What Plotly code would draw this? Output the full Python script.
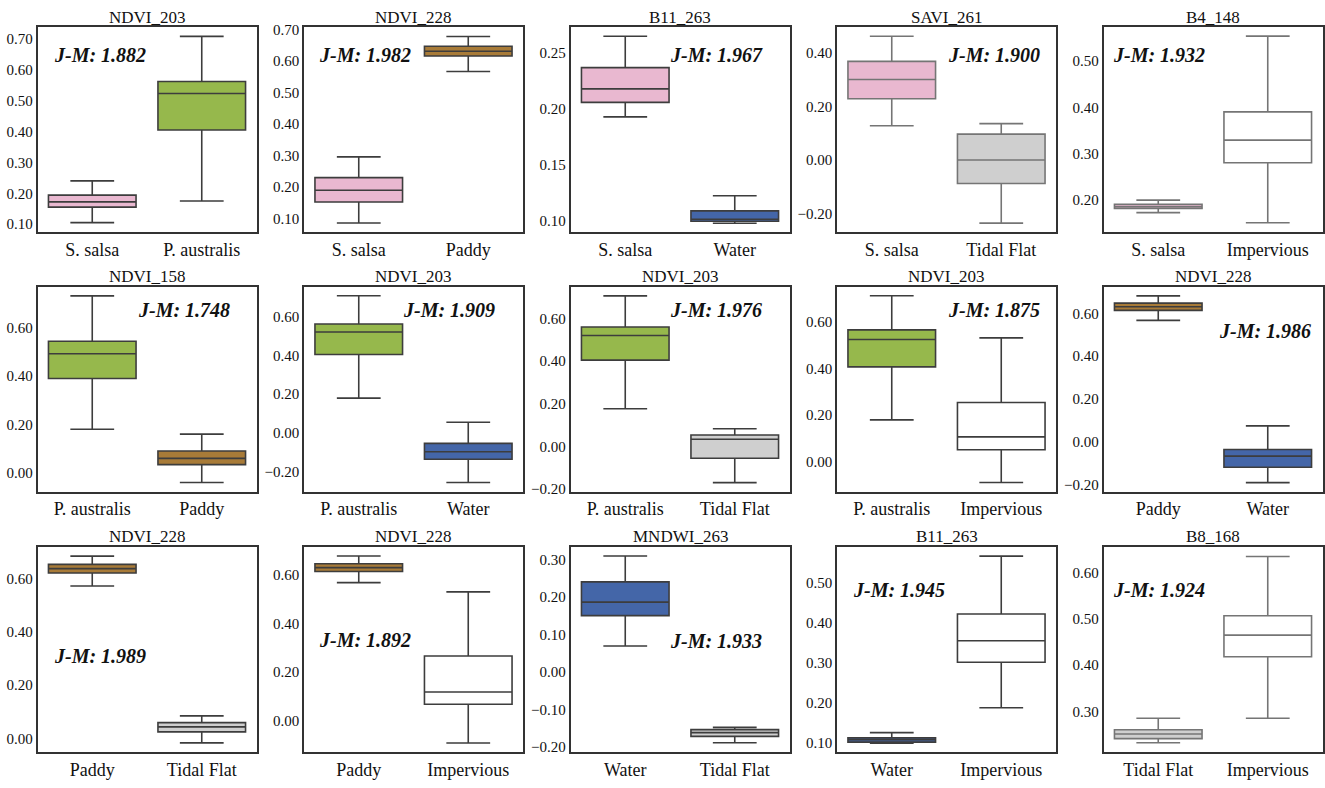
"""J-M separability box plots, 3 x 5 panels"""
import plotly.graph_objects as go

# ---- data ----
titles = ["NDVI_203", "NDVI_228", "B11_263", "SAVI_261", "B4_148",
          "NDVI_158", "NDVI_203", "NDVI_203", "NDVI_203", "NDVI_228",
          "NDVI_228", "NDVI_228", "MNDWI_263", "B11_263", "B8_168"]

pairs = [("S. salsa", "P. australis"), ("S. salsa", "Paddy"), ("S. salsa", "Water"),
         ("S. salsa", "Tidal Flat"), ("S. salsa", "Impervious"),
         ("P. australis", "Paddy"), ("P. australis", "Water"), ("P. australis", "Tidal Flat"),
         ("P. australis", "Impervious"), ("Paddy", "Water"),
         ("Paddy", "Tidal Flat"), ("Paddy", "Impervious"), ("Water", "Tidal Flat"),
         ("Water", "Impervious"), ("Tidal Flat", "Impervious")]

jm_values = [1.882, 1.982, 1.967, 1.900, 1.932,
             1.748, 1.909, 1.976, 1.875, 1.986,
             1.989, 1.892, 1.933, 1.945, 1.924]

# [lower whisker, q1, median, q3, upper whisker] for the first and second class
stats_a = [[0.105, 0.155, 0.172, 0.194, 0.240],
           [0.086, 0.153, 0.190, 0.230, 0.296],
           [0.193, 0.206, 0.218, 0.237, 0.265],
           [0.128, 0.229, 0.301, 0.369, 0.463],
           [0.172, 0.181, 0.185, 0.190, 0.199],
           [0.181, 0.390, 0.492, 0.544, 0.731],
           [0.180, 0.406, 0.523, 0.564, 0.711],
           [0.177, 0.405, 0.520, 0.560, 0.706],
           [0.179, 0.407, 0.525, 0.566, 0.713],
           [0.568, 0.615, 0.632, 0.649, 0.683],
           [0.572, 0.621, 0.637, 0.653, 0.684],
           [0.569, 0.615, 0.631, 0.647, 0.679],
           [0.069, 0.150, 0.186, 0.240, 0.309],
           [0.098, 0.1008, 0.107, 0.1115, 0.1246],
           [0.232, 0.241, 0.251, 0.260, 0.285]]

stats_b = [[0.175, 0.405, 0.523, 0.562, 0.708],
           [0.567, 0.616, 0.631, 0.647, 0.678],
           [0.098, 0.0997, 0.1015, 0.109, 0.1226],
           [-0.236, -0.088, 0.000, 0.097, 0.136],
           [0.150, 0.280, 0.329, 0.390, 0.554],
           [-0.039, 0.035, 0.061, 0.091, 0.161],
           [-0.258, -0.137, -0.098, -0.055, 0.055],
           [-0.169, -0.055, 0.034, 0.054, 0.083],
           [-0.090, 0.051, 0.106, 0.254, 0.532],
           [-0.192, -0.120, -0.068, -0.037, 0.074],
           [-0.016, 0.025, 0.044, 0.060, 0.085],
           [-0.094, 0.0665, 0.117, 0.266, 0.531],
           [-0.189, -0.172, -0.162, -0.154, -0.148],
           [0.187, 0.301, 0.355, 0.422, 0.567],
           [0.285, 0.418, 0.465, 0.507, 0.635]]

y_ticks = [[0.1, 0.2, 0.3, 0.4, 0.5, 0.6, 0.7],
           [0.1, 0.2, 0.3, 0.4, 0.5, 0.6, 0.7],
           [0.10, 0.15, 0.20, 0.25],
           [-0.2, 0.0, 0.2, 0.4],
           [0.2, 0.3, 0.4, 0.5],
           [0.0, 0.2, 0.4, 0.6],
           [-0.2, 0.0, 0.2, 0.4, 0.6],
           [-0.2, 0.0, 0.2, 0.4, 0.6],
           [0.0, 0.2, 0.4, 0.6],
           [-0.2, 0.0, 0.2, 0.4, 0.6],
           [0.0, 0.2, 0.4, 0.6],
           [0.0, 0.2, 0.4, 0.6],
           [-0.2, -0.1, 0.0, 0.1, 0.2, 0.3],
           [0.1, 0.2, 0.3, 0.4, 0.5],
           [0.3, 0.4, 0.5, 0.6]]

# ---- layout / style ----
y_ranges = [[0.073, 0.737], [0.056, 0.707], [0.0897, 0.273], [-0.271, 0.496], [0.129, 0.573],
            [-0.077, 0.769], [-0.306, 0.758], [-0.212, 0.749], [-0.130, 0.752], [-0.235, 0.726],
            [-0.052, 0.717], [-0.133, 0.715], [-0.215, 0.332], [0.075, 0.589], [0.211, 0.655]]

# J-M label position inside each panel (fraction of the panel)
jm_pos = [(0.065, 0.867), (0.058, 0.867), (0.443, 0.867), (0.499, 0.867), (0.032, 0.867),
          (0.449, 0.888), (0.442, 0.888), (0.443, 0.888), (0.499, 0.888), (0.518, 0.784),
          (0.065, 0.472), (0.058, 0.549), (0.443, 0.544), (0.066, 0.792), (0.032, 0.792)]

class_colors = {"S. salsa": "#e9b8d0", "P. australis": "#96b84c", "Paddy": "#a87b38",
                "Water": "#4466a8", "Tidal Flat": "#cfcfcf", "Impervious": "#ffffff"}

dark = "#3d3d3d"
light = "#757575"
line_colors = [dark, dark, dark, light, light,
               dark, dark, dark, dark, dark,
               dark, dark, dark, dark, light]

W, H = 1325, 788
col_px = [(37.5, 256.5), (304, 523), (570.5, 789.5), (837, 1056), (1103.5, 1322.5)]
row_px = [(21.7, 230), (285, 493.3), (549.7, 758)]
FONT = "Liberation Serif, Times New Roman, serif"


def main():
    fig = go.Figure()
    annotations = []
    layout = {}
    for i in range(15):
        r, c = divmod(i, 5)
        n = "" if i == 0 else str(i + 1)
        xa, ya = "x" + n, "y" + n
        cats = pairs[i]
        for cat, st in zip(cats, (stats_a[i], stats_b[i])):
            fig.add_trace(go.Box(
                x=[cat], lowerfence=[st[0]], q1=[st[1]], median=[st[2]],
                q3=[st[3]], upperfence=[st[4]],
                fillcolor=class_colors[cat],
                line=dict(color=line_colors[i], width=1.6),
                width=0.8, whiskerwidth=0.5, showlegend=False,
                xaxis=xa, yaxis=ya, hoverinfo="skip"))
        x0, x1 = col_px[c]
        y0, y1 = row_px[r]
        frame = dict(showline=True, mirror=True, linecolor="#333333", linewidth=1.5,
                     showgrid=False, zeroline=False, ticks="")
        layout["xaxis" + n] = dict(
            domain=[x0 / W, x1 / W], anchor=ya, type="category",
            categoryorder="array", categoryarray=list(cats), range=[-0.5, 1.5],
            tickfont=dict(family=FONT, size=18, color="#111111"), **frame)
        layout["yaxis" + n] = dict(
            domain=[1 - y1 / H, 1 - y0 / H], anchor=xa, range=y_ranges[i],
            tickvals=y_ticks[i], tickformat=".2f",
            tickfont=dict(family=FONT, size=15, color="#111111"), **frame)
        annotations.append(dict(
            text=titles[i], xref="paper", yref="paper",
            x=(x0 + x1) / 2 / W, y=1 - (y0 - 10.5) / H, xanchor="center", yanchor="middle",
            showarrow=False, font=dict(family=FONT, size=17, color="#111111")))
        px, py = jm_pos[i]
        annotations.append(dict(
            text="<b><i>J-M: %.3f</i></b>" % jm_values[i],
            xref=xa + " domain", yref=ya + " domain", x=px, y=py,
            xanchor="left", yanchor="middle", showarrow=False,
            font=dict(family=FONT, size=20, color="#111111")))

    fig.update_layout(
        width=W, height=H, margin=dict(l=0, r=0, t=0, b=0),
        paper_bgcolor="white", plot_bgcolor="white",
        annotations=annotations, **layout)
    # page body has a default 8px margin; drop it so the figure fills the window
    fig.write_html("out.html", config={"displayModeBar": False},
                   post_script="document.body.style.margin='0';")


if __name__ == "__main__":
    main()
